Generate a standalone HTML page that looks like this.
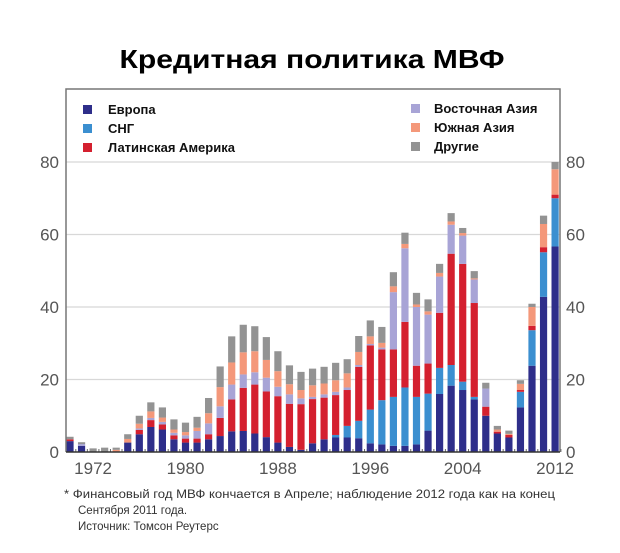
<!DOCTYPE html>
<html><head><meta charset="utf-8"><style>
body{margin:0;background:#fff;width:620px;height:548px;overflow:hidden;font-family:"Liberation Sans","DejaVu Sans",sans-serif}
</style></head><body>
<svg id="c" width="620" height="548" xmlns="http://www.w3.org/2000/svg">
<text x="312" y="68" text-anchor="middle" font-size="26" font-weight="bold" fill="#000" textLength="385" lengthAdjust="spacingAndGlyphs">Кредитная политика МВФ</text>
<g id="grid"></g><g id="bars"></g><g id="axes"></g>
<g font-size="13" font-weight="bold" fill="#111">
<rect x="83" y="105" width="9" height="9" fill="#2e2e8a"/><text x="108" y="114">Европа</text>
<rect x="83" y="124" width="9" height="9" fill="#3b8fd0"/><text x="108" y="133">СНГ</text>
<rect x="83" y="143" width="9" height="9" fill="#d4202f"/><text x="108" y="152">Латинская Америка</text>
<rect x="411" y="104" width="9" height="9" fill="#a8a4d6"/><text x="434" y="113">Восточная Азия</text>
<rect x="411" y="123" width="9" height="9" fill="#f4987a"/><text x="434" y="132">Южная Азия</text>
<rect x="411" y="142" width="9" height="9" fill="#939393"/><text x="434" y="151">Другие</text>
</g>
<g font-size="11.5" fill="#333">
<text x="64" y="498" textLength="491" lengthAdjust="spacingAndGlyphs">*  Финансовый год МВФ кончается в Апреле; наблюдение 2012 года как на конец</text>
<text x="78" y="514">Сентября 2011 года.</text>
<text x="78" y="530">Источник: Томсон Реутерс</text>
</g>
</svg>
<script>
const years=[];for(let y=1970;y<=2012;y++)years.push(y);
const europe=[3,1.7,0,0,0,2.6,4.9,6.9,6.2,3.5,2.6,2.6,3.5,4.4,5.7,5.8,5.1,4.1,2.6,1.4,0.6,2.4,3.5,4,4,3.8,2.4,2.1,1.7,1.7,2.1,5.9,16,18.3,17.1,14.5,10,5.1,4,12.3,23.8,42.8,56.7];
const cis=[0,0,0,0,0,0,0,0,0,0,0,0,0,0,0,0,0,0,0,0,0,0,0,0.7,3.2,4.8,9.3,12.2,13.5,16.1,13.1,10.2,7.2,5.7,2.3,0.7,0,0,0,4.3,9.8,12.3,13.3];
const latam=[0.5,0,0,0,0,0,1.2,1.9,1.4,1.1,1.1,1.1,1.4,5,8.8,11.9,13.5,12.6,12.8,11.9,12.6,12.2,11.5,11,9.9,14.9,17.7,14,13.1,18.1,8.6,8.3,15.2,30.7,32.5,25.9,2.5,0.5,0.7,0.5,1.2,1.4,1];
const eastAsia=[0,0.5,0,0,0,0,0.4,0.6,0.7,0.7,0.9,2.1,3,3.2,4.1,3.7,3.4,3.8,2.6,2.6,1.6,0.6,0.9,0.9,0.7,0.5,0.4,0.5,15.8,20.3,16.2,13.5,10,8,7.8,6.5,5,0,0,0,0,0,0];
const southAsia=[0,0,0,0,0.6,1,1.3,1.8,1.2,0.9,0.9,0.9,2.8,5.3,6.1,6.1,5.8,4.9,4.3,2.8,2.3,3.2,3,3.2,3.9,3.6,2.1,1.3,1.6,1.2,0.7,0.9,1,0.9,0.7,0.3,0,0.6,0.3,1.7,5.2,6.4,7];
const other=[0.7,0.5,1,1.2,0.6,1.3,2.2,2.5,2.8,2.8,2.6,3,4.2,5.7,7.2,7.6,6.9,6.3,5.5,5.2,5,4.6,4.6,4.8,3.9,4.4,4.4,4.4,3.9,3.1,3.2,3.3,2.5,2.3,1.4,2,1.6,1,0.9,1,0.9,2.3,2];
const yTicks=[0,20,40,60,80];
const xLabels=[1972,1980,1988,1996,2004,2012];
const series=[europe,cis,latam,eastAsia,southAsia,other];
const names=['europe','cis','latam','east-asia','south-asia','other'];
const colors=['#2e2e8a','#3b8fd0','#d4202f','#a8a4d6','#f4987a','#939393'];
const NS='http://www.w3.org/2000/svg';
const L=66,R=560,T=89,B=452;
const yS=v=>B-v*(B-162)/80;
const xS=yr=>70+(yr-1970)*11.55;
function mk(tag,attrs,parent){const e=document.createElementNS(NS,tag);for(const k in attrs)e.setAttribute(k,attrs[k]);parent.appendChild(e);return e;}
const grid=document.getElementById('grid'),bars=document.getElementById('bars'),axes=document.getElementById('axes');
yTicks.forEach(t=>{
 if(t>0){const g=mk('line',{x1:L,x2:R,y1:yS(t),y2:yS(t),stroke:'#d8d8d8','stroke-width':1.2},grid);
 
 }
 const a=mk('text',{x:59,y:yS(t)+6,'text-anchor':'end','font-size':17,fill:'#555'},axes);a.textContent=t;
 
 
 const b=mk('text',{x:566,y:yS(t)+6,'font-size':17,fill:'#555'},axes);b.textContent=t;
 
 
});
years.forEach((yr,i)=>{
 let acc=0;
 series.forEach((s,k)=>{
  const v=s[i];if(!v)return;
  const r=mk('rect',{x:xS(yr)-3.6,y:yS(acc+v),width:7.2,height:yS(acc)-yS(acc+v),fill:colors[k]},bars);
  
  
  acc+=v;
 });
 const tk=mk('line',{x1:xS(yr)+5.8,x2:xS(yr)+5.8,y1:B,y2:B-3,stroke:'#666'},axes);
 
 
});
const frame=mk('path',{d:`M${L},${B}V${T}H${R}V${B}`,fill:'none',stroke:'#777','stroke-width':1.5},axes);


const xa=mk('line',{x1:L,x2:R,y1:B,y2:B,stroke:'#333','stroke-width':1.5},axes);


xLabels.forEach(yr=>{
 const t=mk('text',{x:xS(yr),y:474,'text-anchor':'middle','font-size':17,fill:'#555'},axes);t.textContent=yr;
 
 
});
</script>
</body></html>
